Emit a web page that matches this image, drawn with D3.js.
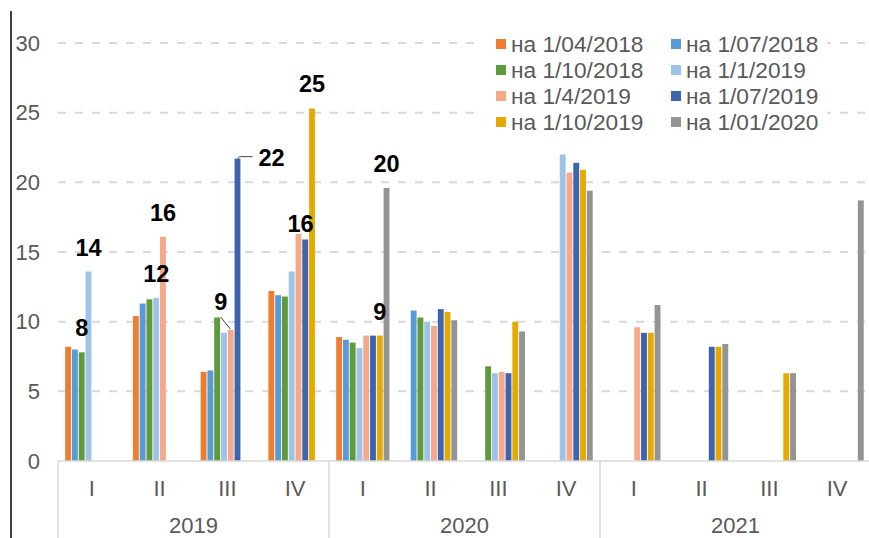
<!DOCTYPE html>
<html>
<head>
<meta charset="utf-8">
<script src="https://cdn.jsdelivr.net/npm/d3@7"></script>
<style>
  body { margin: 0; background: #fff; }
  text { font-family: "Liberation Sans", Arial, sans-serif; }
</style>
</head>
<body>
<div id="chart"></div>
<script>
// quarters and years on the two-level category axis
var quarters = ["I", "II", "III", "IV", "I", "II", "III", "IV", "I", "II", "III", "IV"];
var years = ["2019", "2020", "2021"];

// one forecast per series, 12 quarters from 2019 I to 2021 IV
var seriesNames = ["на 1/04/2018", "на 1/07/2018", "на 1/10/2018", "на 1/1/2019",
                   "на 1/4/2019", "на 1/07/2019", "на 1/10/2019", "на 1/01/2020"];
var apr2018 = [8.2, 10.4, 6.4, 12.2, 8.9, null, null, null, null, null, null, null];
var jul2018 = [8.0, 11.3, 6.5, 11.9, 8.7, 10.8, null, null, null, null, null, null];
var oct2018 = [7.8, 11.6, 10.3, 11.8, 8.5, 10.3, 6.8, null, null, null, null, null];
var jan2019 = [13.6, 11.7, 9.2, 13.6, 8.1, 10.0, 6.3, 22.0, null, null, null, null];
var apr2019 = [null, 16.1, 9.4, 16.3, 9.0, 9.7, 6.4, 20.7, 9.6, null, null, null];
var jul2019 = [null, null, 21.7, 15.9, 9.0, 10.9, 6.3, 21.4, 9.2, 8.2, null, null];
var oct2019 = [null, null, null, 25.3, 9.0, 10.7, 10.0, 20.9, 9.2, 8.2, 6.3, null];
var jan2020 = [null, null, null, null, 19.6, 10.1, 9.3, 19.4, 11.2, 8.4, 6.3, 18.7];
var allSeries = [apr2018, jul2018, oct2018, jan2019, apr2019, jul2019, oct2019, jan2020];

// which points carry a value label: [quarter, series]
var labelled = [[0, 2], [0, 3], [1, 3], [1, 4], [2, 4], [2, 5], [3, 4], [3, 6], [4, 6], [4, 7]];

var colors = ["#ED7D31", "#5B9BD5", "#5F9A3C", "#9DC3E6", "#F4A98A", "#3F64AE", "#E5AA00", "#949494"];

var W = 869, H = 538;
var plot = { left: 58, right: 871, top: 43, bottom: 461 };

var svg = d3.select("#chart").append("svg")
    .attr("width", W)
    .attr("height", H);

var x0 = d3.scaleBand()
    .domain(d3.range(quarters.length))
    .range([plot.left, plot.right])
    .paddingInner(0.2)
    .paddingOuter(0.1);

var x1 = d3.scaleBand()
    .domain(d3.range(seriesNames.length))
    .range([0, x0.bandwidth()]);

var y = d3.scaleLinear().domain([0, 30]).range([plot.bottom, plot.top]);

// outer black frame line on the left
svg.append("line")
    .attr("x1", 11).attr("x2", 11)
    .attr("y1", 11).attr("y2", H)
    .attr("stroke", "#000").attr("stroke-width", 1.5);

// gridlines
var ticks = y.ticks(6);
svg.append("g").selectAll("line")
    .data(ticks.filter(function(d) { return d > 0; }))
    .enter().append("line")
      .attr("x1", plot.left).attr("x2", W)
      .attr("y1", function(d) { return y(d); })
      .attr("y2", function(d) { return y(d); })
      .attr("stroke", "#d9d9d9")
      .attr("stroke-width", 2)
      .attr("stroke-dasharray", "8,9");

// y axis labels (no axis line)
var yAxis = svg.append("g")
    .attr("transform", "translate(40,0)")
    .call(d3.axisLeft(y).tickValues(ticks).tickSize(0).tickPadding(0));
yAxis.select(".domain").remove();
yAxis.selectAll("text")
    .attr("fill", "#595959")
    .style("font-size", "22px")
    .style("font-family", "'Liberation Sans', Arial, sans-serif");

// bars
var rows = [];
allSeries.forEach(function(vals, s) {
  vals.forEach(function(v, q) {
    if (v != null) rows.push({ q: q, s: s, v: v });
  });
});

svg.append("g").selectAll("rect")
    .data(rows)
    .enter().append("rect")
      .attr("x", function(d) { return x0(d.q) + x1(d.s) + 0.4; })
      .attr("y", function(d) { return y(d.v); })
      .attr("width", x1.bandwidth() - 0.9)
      .attr("height", function(d) { return y(0) - y(d.v); })
      .attr("fill", function(d) { return colors[d.s]; });

// category axis baseline and year separators
svg.append("line")
    .attr("x1", plot.left).attr("x2", W)
    .attr("y1", plot.bottom).attr("y2", plot.bottom)
    .attr("stroke", "#d9d9d9").attr("stroke-width", 1.5);

svg.append("g").selectAll("line")
    .data([0, 4, 8])
    .enter().append("line")
      .attr("x1", function(d) { return x0.step() * d + plot.left; })
      .attr("x2", function(d) { return x0.step() * d + plot.left; })
      .attr("y1", plot.bottom).attr("y2", H)
      .attr("stroke", "#d9d9d9").attr("stroke-width", 1.5);

svg.append("g").selectAll("text")
    .data(quarters)
    .enter().append("text")
      .attr("x", function(d, i) { return x0(i) + x0.bandwidth() / 2; })
      .attr("y", 488)
      .attr("dy", "0.35em")
      .attr("text-anchor", "middle")
      .attr("fill", "#595959")
      .style("font-size", "22px")
      .text(function(d) { return d; });

svg.append("g").selectAll("text")
    .data(years)
    .enter().append("text")
      .attr("x", function(d, i) { return plot.left + x0.step() * (i * 4 + 2); })
      .attr("y", 525)
      .attr("dy", "0.35em")
      .attr("text-anchor", "middle")
      .attr("fill", "#595959")
      .style("font-size", "22px")
      .text(function(d) { return d; });

// value labels
function cx(q, s) { return x0(q) + x1(s) + x1.bandwidth() / 2; }
var nudge = { "2,4": [-10, -20], "2,5": [21, 7], "3,4": [2, -2] };

var lab = svg.append("g");
labelled.forEach(function(p) {
  var q = p[0], s = p[1], v = allSeries[s][q];
  var n = nudge[q + "," + s] || [0, -16];
  lab.append("text")
      .attr("x", cx(q, s) + n[0])
      .attr("y", y(v) + n[1])
      .attr("text-anchor", q == 2 && s == 5 ? "start" : "middle")
      .attr("fill", "#000")
      .style("font-size", "23.5px")
      .style("font-weight", "bold")
      .text(d3.format(".0f")(v));
});

// leader lines for the two shifted labels
lab.append("path")
    .attr("d", "M" + (cx(2, 4) - 10) + "," + (y(allSeries[4][2]) - 13) + "L" + (cx(2, 4) - 0.5) + "," + (y(allSeries[4][2]) - 1))
    .attr("stroke", "#404040").attr("fill", "none").attr("stroke-width", 1);
lab.append("path")
    .attr("d", "M" + cx(2, 5) + "," + y(allSeries[5][2]) + "l2,-2h13")
    .attr("stroke", "#404040").attr("fill", "none").attr("stroke-width", 1);

// legend
var legend = svg.append("g");
legend.append("rect")
    .attr("x", 483).attr("y", 30)
    .attr("width", 344).attr("height", 106)
    .attr("fill", "#fff");

var items = legend.selectAll(".item")
    .data(seriesNames)
    .enter().append("g")
      .attr("class", "item")
      .attr("transform", function(d, i) {
        return "translate(" + (i % 2 ? 671 : 496) + "," + (44 + Math.floor(i / 2) * 26) + ")";
      });

items.append("rect")
    .attr("x", 0).attr("y", -5)
    .attr("width", 10).attr("height", 10)
    .attr("fill", function(d, i) { return colors[i]; });

items.append("text")
    .attr("x", 15)
    .attr("dy", "0.35em")
    .attr("fill", "#595959")
    .style("font-size", "22.7px")
    .text(function(d) { return d; });
</script>
</body>
</html>
